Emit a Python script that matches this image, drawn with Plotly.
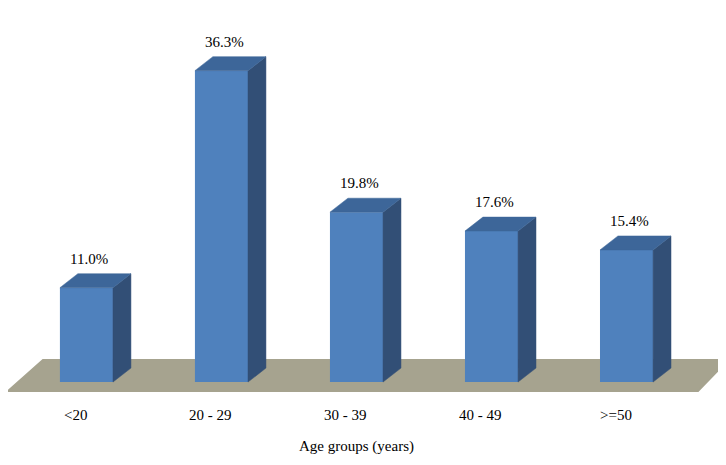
import plotly.graph_objects as go

categories = ["<20", "20 - 29", "30 - 39", "40 - 49", ">=50"]
values = [11.0, 36.3, 19.8, 17.6, 15.4]
labels = ["11.0%", "36.3%", "19.8%", "17.6%", "15.4%"]

W = 0.393   # bar width (x units)
DX = 0.133  # depth offset x
DY = 1.63   # depth offset y (percent units)
FONT = "Liberation Serif"

fig = go.Figure()

# floor
fig.add_shape(type="path", xref="paper", yref="paper",
              path="M 0,0.1763 L 0.9504,0.1763 L 0.9917,0.2430 L 0.0482,0.2430 Z",
              fillcolor="#a6a38f", line=dict(color="#a6a38f"), layer="below")

for i, v in enumerate(values):
    l, r = i - W / 2, i + W / 2
    # side face
    fig.add_trace(go.Scatter(x=[r, r + DX, r + DX, r, r], y=[0, DY, v + DY, v, 0],
                             fill="toself", fillcolor="#324f76", mode="lines",
                             line=dict(color="#324f76", width=0.5), hoverinfo="skip"))
    # top face
    fig.add_trace(go.Scatter(x=[l, r, r + DX, l + DX, l], y=[v, v, v + DY, v + DY, v],
                             fill="toself", fillcolor="#3d6699", mode="lines",
                             line=dict(color="#3d6699", width=0.5), hoverinfo="skip"))

fig.add_trace(go.Bar(x=list(range(len(values))), y=values, width=W,
                     marker=dict(color="#4f81bd", line=dict(width=0)), hoverinfo="skip"))

for i, (v, t) in enumerate(zip(values, labels)):
    fig.add_annotation(x=i + 0.02, y=v + DY + 0.55, text=t, showarrow=False,
                       yanchor="bottom", font=dict(family=FONT, size=15, color="black"))
    fig.add_annotation(x=i - 0.08, y=-3.85, text=categories[i], showarrow=False,
                       font=dict(family=FONT, size=15, color="black"))

fig.add_annotation(x=2.0, y=-7.5, text="Age groups (years)", showarrow=False,
                   font=dict(family=FONT, size=15, color="black"))

fig.update_layout(width=726, height=465, margin=dict(l=0, r=0, t=0, b=0),
                  plot_bgcolor="white", paper_bgcolor="white", showlegend=False,
                  barmode="overlay")
fig.update_xaxes(range=[-0.581, 4.796], visible=False)
fig.update_yaxes(range=[-10.6, 43.6], visible=False)

fig.write_html("out.html")
